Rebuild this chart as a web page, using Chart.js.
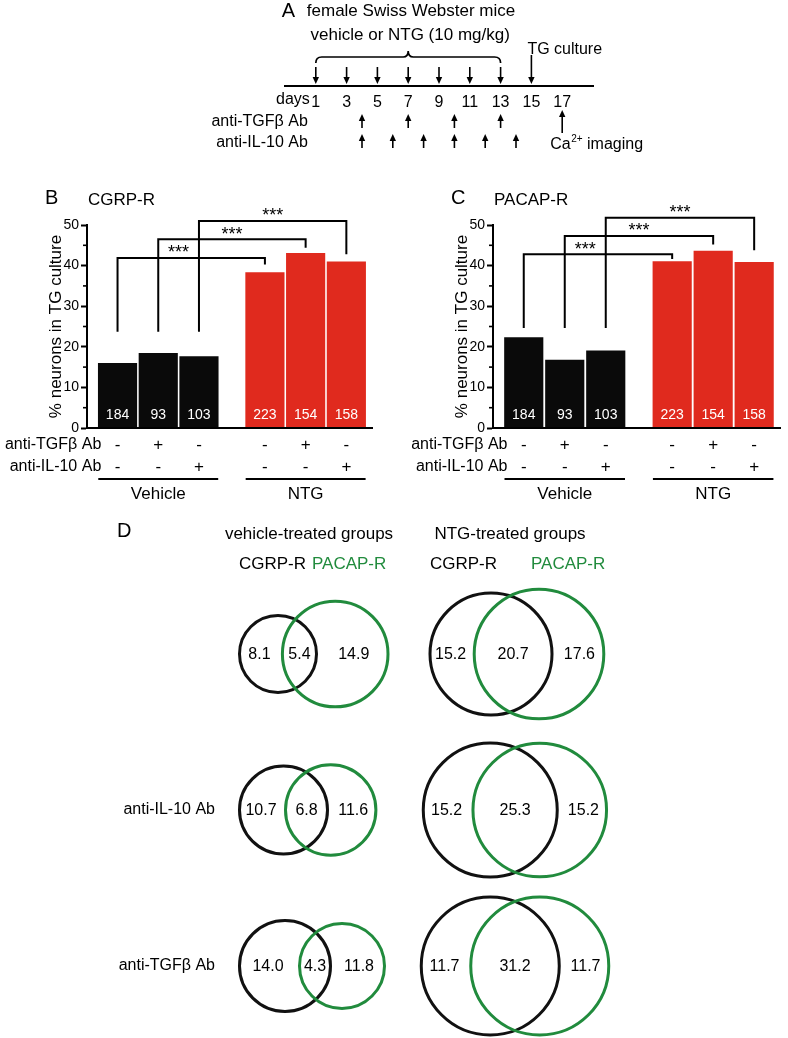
<!DOCTYPE html>
<html>
<head>
<meta charset="utf-8">
<title>CGRP-R / PACAP-R responses in TG culture</title>
<script src="https://cdn.jsdelivr.net/npm/chart.js@4.4.1/dist/chart.umd.min.js"></script>
<style>
  html, body { margin: 0; padding: 0; background: #fff; }
  #fig { position: relative; width: 788px; height: 1038px; overflow: hidden; }
  #fig canvas { position: absolute; }
</style>
</head>
<body>
<div id="fig">
  <canvas id="panelA" width="480" height="160" style="left:200px;top:0px"></canvas>
  <canvas id="panelB" width="390" height="340" style="left:0px;top:175px"></canvas>
  <canvas id="panelC" width="398" height="340" style="left:390px;top:175px"></canvas>
  <canvas id="panelD" width="788" height="523" style="left:0px;top:515px"></canvas>
</div>
<script>
const FONT = '"Liberation Sans", Arial, Helvetica, sans-serif';
const BLACK = '#0a0a0a';
const RED = '#e02a1e';
const GREEN = '#218b3d';

// A: treatment schedule (days)
const dayTicks = [1, 3, 5, 7, 9, 11, 13, 15, 17];
const ntgDoseDays = [1, 3, 5, 7, 9, 11, 13];
const tgfbAbDays = [4, 7, 10, 13];
const il10AbDays = [4, 6, 8, 10, 12, 14];
const cultureDay = 15;
const imagingDay = 17;

// B / C: % responding neurons
const barGroups = ['Vehicle', 'Vehicle', 'Vehicle', 'NTG', 'NTG', 'NTG'];
const tgfbAbSigns = ['-', '+', '-', '-', '+', '-'];
const il10AbSigns = ['-', '-', '+', '-', '-', '+'];
const neuronCounts = [184, 93, 103, 223, 154, 158];
const cgrpValues = [15.9, 18.4, 17.6, 38.3, 43.0, 40.9];
const pacapValues = [22.3, 16.7, 19.0, 41.0, 43.6, 40.8];
const yTicks = [0, 10, 20, 30, 40, 50];
// *** brackets, vehicle bar i vs NTG bar i (in % units)
const cgrpBracketTop = [41.9, 46.5, 51.0];
const cgrpBracketEnd = [40.3, 44.4, 42.8];
const pacapBracketTop = [42.8, 47.3, 51.8];
const pacapBracketEnd = [41.6, 45.2, 43.8];

// D: overlap of CGRP-R and PACAP-R responders (%)
const vennRows = ['', 'anti-IL-10 Ab', 'anti-TGFβ Ab'];
const vehCgrpOnly = [8.1, 10.7, 14.0];
const vehBoth = [5.4, 6.8, 4.3];
const vehPacapOnly = [14.9, 11.6, 11.8];
const ntgCgrpOnly = [15.2, 15.2, 11.7];
const ntgBoth = [20.7, 25.3, 31.2];
const ntgPacapOnly = [17.6, 15.2, 11.7];
// circle sizes and centre distances as drawn in the figure
const vehCgrpRadius = [40, 45.5, 47];
const vehPacapRadius = [54.3, 46.7, 44];
const vehGap = [57.2, 47.2, 57];
const ntgCgrpRadius = [62.5, 68.5, 70.5];
const ntgPacapRadius = [66.3, 68.3, 70.5];
const ntgGap = [48, 49.5, 49.5];

Chart.defaults.font.family = FONT;
Chart.defaults.color = '#000';

function text(ctx, s, x, y, size, opts = {}) {
  ctx.save();
  ctx.font = size + 'px ' + FONT;
  ctx.fillStyle = opts.color || '#000';
  ctx.textAlign = opts.align || 'left';
  ctx.textBaseline = opts.baseline || 'middle';
  ctx.fillText(s, x, y);
  ctx.restore();
}

function arrow(ctx, x, yTail, yHead) {
  const dir = yHead > yTail ? 1 : -1;
  const headLen = 7, half = 3.2;
  ctx.save();
  ctx.strokeStyle = '#000';
  ctx.fillStyle = '#000';
  ctx.lineWidth = 1.6;
  ctx.beginPath();
  ctx.moveTo(x, yTail);
  ctx.lineTo(x, yHead - dir * headLen);
  ctx.stroke();
  ctx.beginPath();
  ctx.moveTo(x, yHead);
  ctx.lineTo(x - half, yHead - dir * headLen);
  ctx.lineTo(x + half, yHead - dir * headLen);
  ctx.closePath();
  ctx.fill();
  ctx.restore();
}

// ---------- A ----------
const timelinePlugin = {
  id: 'timeline',
  afterDraw(chart) {
    const ctx = chart.ctx;
    const px = d => chart.scales.x.getPixelForValue(d);
    const axisY = chart.chartArea.bottom;
    const first = px(ntgDoseDays[0]);
    const last = px(ntgDoseDays[ntgDoseDays.length - 1]);
    const mid = (first + last) / 2;

    text(ctx, 'A', first - 34, 11, 20);
    text(ctx, 'female Swiss Webster mice', first - 9, 11, 17);
    text(ctx, 'vehicle or NTG (10 mg/kg)', mid + 2, 35, 17, { align: 'center' });

    // curly brace over the dosing days
    ctx.save();
    ctx.strokeStyle = '#000';
    ctx.lineWidth = 1.7;
    ctx.beginPath();
    ctx.moveTo(first, 63);
    ctx.quadraticCurveTo(first, 57, first + 6, 57);
    ctx.lineTo(mid - 5, 57);
    ctx.quadraticCurveTo(mid, 57, mid, 51);
    ctx.quadraticCurveTo(mid, 57, mid + 5, 57);
    ctx.lineTo(last - 6, 57);
    ctx.quadraticCurveTo(last, 57, last, 63);
    ctx.stroke();
    ctx.restore();

    ntgDoseDays.forEach(d => arrow(ctx, px(d), axisY - 19, axisY - 2));
    arrow(ctx, px(cultureDay), axisY - 31, axisY - 2);
    text(ctx, 'TG culture', px(cultureDay) - 4, 50, 16);

    text(ctx, 'days', first - 6, 100, 16, { align: 'right' });
    text(ctx, 'anti-TGFβ Ab', first - 8, 122, 16, { align: 'right' });
    text(ctx, 'anti-IL-10 Ab', first - 8, 143, 16, { align: 'right' });
    tgfbAbDays.forEach(d => arrow(ctx, px(d), 128, 114));
    il10AbDays.forEach(d => arrow(ctx, px(d), 148, 134));
    arrow(ctx, px(imagingDay), 133, 110);

    // Ca2+ imaging
    ctx.save();
    ctx.fillStyle = '#000';
    ctx.textBaseline = 'alphabetic';
    let x = px(imagingDay) - 12;
    ctx.font = '16px ' + FONT;
    ctx.fillText('Ca', x, 148.5);
    x += ctx.measureText('Ca').width + 0.5;
    ctx.font = '10px ' + FONT;
    ctx.fillText('2+', x, 142);
    x += ctx.measureText('2+').width;
    ctx.font = '16px ' + FONT;
    ctx.fillText(' imaging', x, 148.5);
    ctx.restore();
  }
};

new Chart(document.getElementById('panelA'), {
  type: 'scatter',
  data: { datasets: [{ data: ntgDoseDays.map(d => ({ x: d, y: 0 })), pointRadius: 0 }] },
  options: {
    responsive: false,
    animation: false,
    events: [],
    layout: { padding: { left: 85, right: 87, top: 0, bottom: 50 }, autoPadding: false },
    plugins: { legend: { display: false }, tooltip: { enabled: false } },
    scales: {
      x: {
        type: 'linear', min: -1, max: 19,
        afterBuildTicks: s => { s.ticks = dayTicks.map(v => ({ value: v })); },
        afterFit: s => { s.height = 24; },
        grid: { display: false, drawTicks: false },
        border: { display: true, color: '#000', width: 2 },
        ticks: { font: { size: 16 }, color: '#000', padding: 7, maxRotation: 0, autoSkip: false }
      },
      y: { display: false, min: 0, max: 1 }
    }
  },
  plugins: [timelinePlugin]
});

// ---------- B and C ----------
const BAR_W = 38.5;
const barX = barGroups.map((g, i) => i + (g === 'NTG' ? 0.62 : 0));

function barPanel(id, cfg) {
  const decor = {
    id: 'decor',
    afterDraw(chart) {
      const ctx = chart.ctx;
      const xs = chart.scales.x, ys = chart.scales.y;
      const cx = i => xs.getPixelForValue(barX[i]);
      const py = v => ys.getPixelForValue(v);
      const half = BAR_W / 2;
      const area = chart.chartArea;
      const base = py(0);

      // minor ticks
      ctx.save();
      ctx.strokeStyle = '#000';
      ctx.lineWidth = 1.6;
      for (let k = 0; k < yTicks.length - 1; k++) {
        const y = py((yTicks[k] + yTicks[k + 1]) / 2);
        ctx.beginPath();
        ctx.moveTo(area.left - 4, y);
        ctx.lineTo(area.left, y);
        ctx.stroke();
      }
      ctx.restore();

      neuronCounts.forEach((n, i) => text(ctx, String(n), cx(i), base - 13, 14, { align: 'center', color: '#fff' }));

      // significance brackets
      ctx.save();
      ctx.strokeStyle = '#000';
      ctx.lineWidth = 2;
      for (let k = 0; k < 3; k++) {
        const a = cx(k), b = cx(k + 3), yTop = py(cfg.bracketTop[k]);
        ctx.beginPath();
        ctx.moveTo(a, py(cfg.bracketBase));
        ctx.lineTo(a, yTop);
        ctx.lineTo(b, yTop);
        ctx.lineTo(b, py(cfg.bracketEnd[k]));
        ctx.stroke();
      }
      ctx.restore();
      const starX = [(cx(1) + cx(2)) / 2, (cx(1) + cx(4)) / 2, (cx(2) + cx(5)) / 2];
      starX.forEach((x, k) => text(ctx, '***', x, py(cfg.bracketTop[k]) + 0.5, 18, { align: 'center', baseline: 'alphabetic' }));

      // treatment rows
      const labelRight = cx(0) - half + 3;
      text(ctx, 'anti-TGFβ Ab', labelRight, base + 17, 16, { align: 'right' });
      text(ctx, 'anti-IL-10 Ab', labelRight, base + 39, 16, { align: 'right' });
      tgfbAbSigns.forEach((s, i) => text(ctx, s, cx(i), base + 17, 17, { align: 'center' }));
      il10AbSigns.forEach((s, i) => text(ctx, s, cx(i), base + 39, 17, { align: 'center' }));

      // group underlines
      ['Vehicle', 'NTG'].forEach(g => {
        const idx = barGroups.map((v, i) => v === g ? i : -1).filter(i => i >= 0);
        const l = cx(idx[0]) - half, r = cx(idx[idx.length - 1]) + half;
        ctx.save();
        ctx.strokeStyle = '#000';
        ctx.lineWidth = 2;
        ctx.beginPath();
        ctx.moveTo(l, base + 51);
        ctx.lineTo(r, base + 51);
        ctx.stroke();
        ctx.restore();
        text(ctx, g, (l + r) / 2, base + 66, 17, { align: 'center' });
      });

      text(ctx, cfg.letter, area.left - 42, area.top - 27, 20);
      text(ctx, cfg.title, area.left + 1, area.top - 25, 17);

      ctx.save();
      ctx.translate(area.left - 31, py(25));
      ctx.rotate(-Math.PI / 2);
      text(ctx, '% neurons in TG culture', 0, 0, 17, { align: 'center' });
      ctx.restore();
    }
  };

  return new Chart(document.getElementById(id), {
    type: 'bar',
    data: {
      datasets: [{
        data: cfg.values.map((v, i) => ({ x: barX[i], y: v })),
        backgroundColor: barGroups.map(g => g === 'NTG' ? RED : BLACK),
        barThickness: BAR_W,
        borderWidth: 0
      }]
    },
    options: {
      responsive: false,
      animation: false,
      events: [],
      layout: { padding: { left: 0, right: cfg.padRight, top: 50, bottom: 87 }, autoPadding: false },
      plugins: { legend: { display: false }, tooltip: { enabled: false } },
      scales: {
        x: {
          type: 'linear', min: -0.75, max: 6.25, offset: false,
          ticks: { display: false },
          grid: { display: false, drawTicks: false, offset: false },
          border: { display: true, color: '#000', width: 2, z: 1 },
          afterFit: s => { s.height = 0; }
        },
        y: {
          min: 0, max: 50,
          afterBuildTicks: s => { s.ticks = yTicks.map(v => ({ value: v })); },
          afterFit: s => { s.width = cfg.plotLeft; },
          ticks: { font: { size: 14 }, color: '#000', padding: 2 },
          grid: { drawOnChartArea: false, drawTicks: true, tickLength: 6, tickWidth: 2, tickColor: '#000' },
          border: { display: true, color: '#000', width: 2 }
        }
      }
    },
    plugins: [decor]
  });
}

barPanel('panelB', {
  letter: 'B', title: 'CGRP-R', values: cgrpValues,
  bracketTop: cgrpBracketTop, bracketEnd: cgrpBracketEnd, bracketBase: 23.7,
  plotLeft: 87, padRight: 18
});
barPanel('panelC', {
  letter: 'C', title: 'PACAP-R', values: pacapValues,
  bracketTop: pacapBracketTop, bracketEnd: pacapBracketEnd, bracketBase: 24.6,
  plotLeft: 103, padRight: 8
});

// ---------- D ----------
const D_W = 788, D_H = 523;
const ROW0 = 139, ROW_STEP = 156;   // pixel of first row, row spacing
const VEH_LEFT = 238;               // left edge of vehicle CGRP-R circles
const NTG_MID = 515;                // midpoint of NTG circle pair
const STROKE = 3;

const vehCgrpX = vehCgrpRadius.map(r => VEH_LEFT + r);
const vehPacapX = vehCgrpX.map((x, i) => x + vehGap[i]);
const ntgCgrpX = ntgGap.map(g => NTG_MID - g / 2);
const ntgPacapX = ntgGap.map(g => NTG_MID + g / 2);

function circles(xs, radii) {
  return xs.map((x, i) => ({ x, y: i, r: radii[i] - STROKE / 2 }));
}

const vennPlugin = {
  id: 'vennLabels',
  afterDatasetsDraw(chart) {
    const ctx = chart.ctx;
    const xs = chart.scales.x, ys = chart.scales.y;

    text(ctx, 'D', 117, 16, 20);
    text(ctx, 'vehicle-treated groups', VEH_LEFT + 71, 19, 17, { align: 'center' });
    text(ctx, 'NTG-treated groups', NTG_MID - 5, 19, 17, { align: 'center' });
    text(ctx, 'CGRP-R', VEH_LEFT + 1, 49, 17);
    text(ctx, 'PACAP-R', VEH_LEFT + 74, 49, 17, { color: GREEN });
    text(ctx, 'CGRP-R', NTG_MID - 85, 49, 17);
    text(ctx, 'PACAP-R', NTG_MID + 16, 49, 17, { color: GREEN });

    const regionLabels = (bx, br, gx, gr, vals, i) => {
      const bL = xs.getPixelForValue(bx - br), bR = xs.getPixelForValue(bx + br);
      const gL = xs.getPixelForValue(gx - gr), gR = xs.getPixelForValue(gx + gr);
      const y = ys.getPixelForValue(i) + 1;
      text(ctx, vals[0].toFixed(1), (bL + gL) / 2, y, 16, { align: 'center' });
      text(ctx, vals[1].toFixed(1), (gL + bR) / 2, y, 16, { align: 'center' });
      text(ctx, vals[2].toFixed(1), (bR + gR) / 2, y, 16, { align: 'center' });
    };

    vennRows.forEach((row, i) => {
      const y = ys.getPixelForValue(i);
      if (row) text(ctx, row, 215, y, 16, { align: 'right' });
      regionLabels(vehCgrpX[i], vehCgrpRadius[i], vehPacapX[i], vehPacapRadius[i],
        [vehCgrpOnly[i], vehBoth[i], vehPacapOnly[i]], i);
      regionLabels(ntgCgrpX[i], ntgCgrpRadius[i], ntgPacapX[i], ntgPacapRadius[i],
        [ntgCgrpOnly[i], ntgBoth[i], ntgPacapOnly[i]], i);
    });
  }
};

new Chart(document.getElementById('panelD'), {
  type: 'bubble',
  data: {
    datasets: [
      {
        label: 'PACAP-R',
        data: circles(vehPacapX, vehPacapRadius).concat(circles(ntgPacapX, ntgPacapRadius)),
        borderColor: GREEN, backgroundColor: 'rgba(0,0,0,0)', borderWidth: STROKE, clip: false
      },
      {
        label: 'CGRP-R',
        data: circles(vehCgrpX, vehCgrpRadius).concat(circles(ntgCgrpX, ntgCgrpRadius)),
        borderColor: '#111', backgroundColor: 'rgba(0,0,0,0)', borderWidth: STROKE, clip: false
      }
    ]
  },
  options: {
    responsive: false,
    animation: false,
    events: [],
    layout: { padding: 0, autoPadding: false },
    plugins: { legend: { display: false }, tooltip: { enabled: false } },
    scales: {
      x: { display: false, min: 0, max: D_W },
      y: { display: false, reverse: true, min: -ROW0 / ROW_STEP, max: (D_H - ROW0) / ROW_STEP }
    }
  },
  plugins: [vennPlugin]
});
</script>
</body>
</html>
